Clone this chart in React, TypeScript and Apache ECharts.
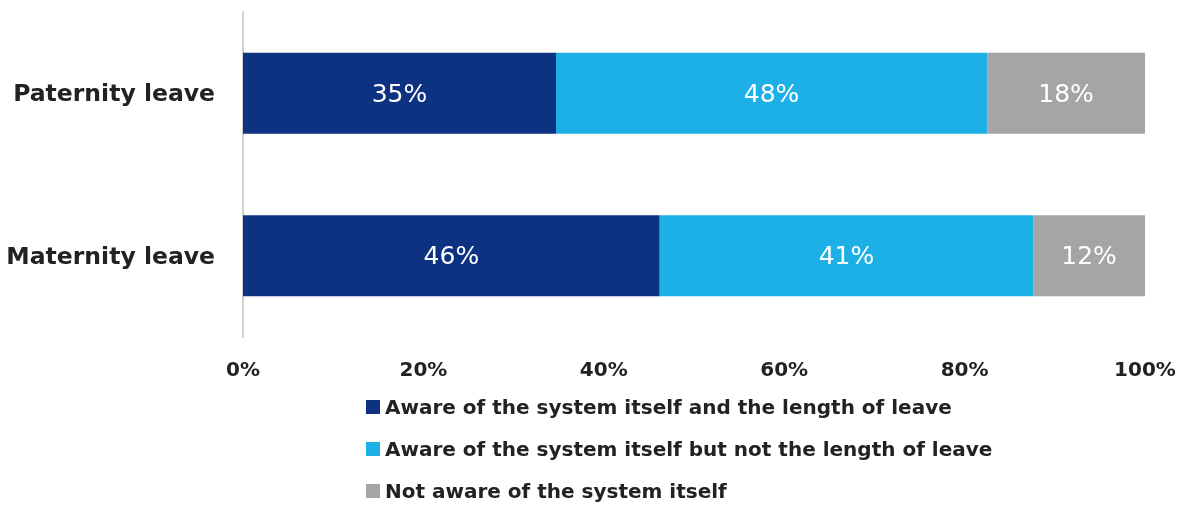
import React, { useEffect, useRef } from "react";
import * as echarts from "echarts";

const categories = ["Maternity leave", "Paternity leave"];
const seriesNames = [
  "Aware of the system itself and the length of leave",
  "Aware of the system itself but not the length of leave",
  "Not aware of the system itself",
];
const awareBoth = [46.2, 34.7];
const awareSystemOnly = [41.4, 47.8];
const notAware = [12.4, 17.5];
const colors = ["#0d3282", "#1cb0e6", "#a5a5a5"];

const FONT = "'DejaVu Sans', sans-serif";

export default function App() {
  const ref = useRef<HTMLDivElement>(null);
  useEffect(() => {
    if (!ref.current) return;
    const chart = echarts.init(ref.current, undefined, { renderer: "svg" });
    const values = [awareBoth, awareSystemOnly, notAware];
    chart.setOption({
      animation: false,
      textStyle: { fontFamily: FONT },
      grid: { left: 243, right: 46, top: 12, bottom: 173, containLabel: false },
      xAxis: {
        type: "value",
        min: 0,
        max: 100,
        interval: 20,
        axisLine: { show: false },
        axisTick: { show: false },
        splitLine: { show: false },
        axisLabel: {
          formatter: "{value}%",
          fontSize: 20,
          fontWeight: "bold",
          color: "#222",
          margin: 22,
          fontFamily: FONT,
        },
      },
      yAxis: {
        type: "category",
        data: categories,
        axisLine: { show: true, lineStyle: { color: "#d0d0d0", width: 2 } },
        axisTick: { show: false },
        axisLabel: {
          fontSize: 23.5,
          fontWeight: "bold",
          color: "#222",
          margin: 28,
          fontFamily: FONT,
        },
      },
      legend: {
        orient: "vertical",
        left: 366,
        top: 397,
        padding: 0,
        itemWidth: 14,
        itemHeight: 14,
        itemGap: 22,
        icon: "rect",
        textStyle: {
          fontSize: 20,
          fontWeight: "bold",
          color: "#222",
          fontFamily: FONT,
        },
        data: seriesNames,
      },
      series: seriesNames.map((name, i) => ({
        name,
        type: "bar",
        stack: "total",
        barWidth: 81,
        data: values[i],
        itemStyle: { color: colors[i] },
        label: {
          show: true,
          position: "inside",
          color: "#fff",
          fontSize: 25,
          fontFamily: FONT,
          formatter: (p: any) => Math.round(p.value) + "%",
        },
      })),
    });
    return () => chart.dispose();
  }, []);
  return (
    <div
      ref={ref}
      style={{ position: "fixed", left: 0, top: 0, width: 1191, height: 510 }}
    />
  );
}
